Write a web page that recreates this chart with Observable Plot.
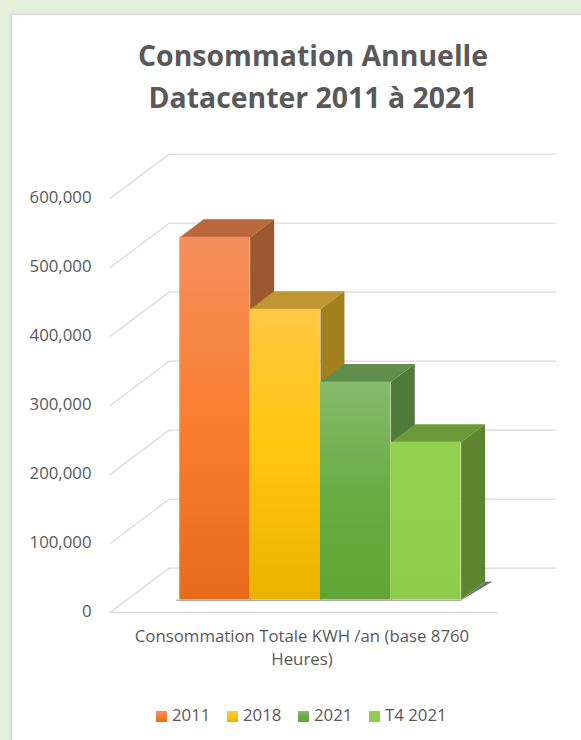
<!DOCTYPE html>
<html lang="fr">
<head>
<meta charset="utf-8">
<script src="https://cdn.jsdelivr.net/npm/d3@7"></script>
<script src="https://cdn.jsdelivr.net/npm/@observablehq/plot@0.6"></script>
<style>
  html, body { margin: 0; padding: 0; background: #E2EFDA; }
  #page { position: relative; width: 581px; height: 740px; overflow: hidden; background: #E2EFDA; font-family: "Open Sans", sans-serif; }
  #card { position: absolute; left: 10px; top: 13px; width: 600px; height: 760px; background: #fff; border: 2px solid #DEDEDE; box-sizing: border-box; }
  #title { position: absolute; left: 0; top: 34px; width: 626px; text-align: center; font-weight: 700; font-size: 28.4px; line-height: 42px; color: #595959; }
  #chart { position: absolute; left: 0; top: 140px; }
  #xlabel { position: absolute; left: 102px; top: 624px; width: 400px; text-align: center; font-size: 16.8px; line-height: 23px; color: #595959; }
  #legend { position: absolute; left: 0; top: 704px; width: 581px; color: #595959; font-size: 16.8px; line-height: 22px; }
  #legend span.item { position: absolute; top: 0; white-space: nowrap; }
  #legend i { position: absolute; top: 7px; left: -16px; width: 11px; height: 11px; }
</style>
</head>
<body>
<div id="page">
  <div id="card"></div>
  <div id="title">Consommation Annuelle<br>Datacenter 2011 à 2021</div>
  <div id="chart"></div>
  <div id="xlabel">Consommation Totale KWH /an (base 8760<br>Heures)</div>
  <div id="legend"></div>
</div>
<script>
const categories = ["2011", "2018", "2021", "T4 2021"];
const values = [525500, 421000, 315500, 228500];
const yTicks = [0, 100000, 200000, 300000, 400000, 500000, 600000];

const frontStops = [
  ["#F58F5C", "#F97F30", "#E76B18"],
  ["#FFC842", "#FFC60C", "#E9B300"],
  ["#86BB6B", "#6BAC44", "#62A436"],
  ["#92D14F", "#92D14F", "#8DCC4B"]
];
const topColors = ["#B9683B", "#BF9732", "#618F4B", "#6C9A38"];
const sideColors = ["#9C5930", "#A3801E", "#4F7A39", "#5F8430"];
const legendLefts = [172, 243, 314, 385];

// Oblique projection: depth z is measured in bar depths.
const depthX = 0.341;
const depthY = 26087;
const floorZ = [-0.706, 1.756];
const wallX = [-0.75, 4.75];
const proj = (x, v, z) => ({x: x + z * depthX, y: v + z * depthY});

const gridRows = yTicks.flatMap((v) => [
  {id: v, ...proj(wallX[0], v, floorZ[0])},
  {id: v, ...proj(wallX[0], v, floorZ[1])},
  {id: v, ...proj(wallX[1], v, floorZ[1])}
]);
const floorFront = [
  proj(wallX[0], 0, floorZ[0]),
  proj(wallX[1], 0, floorZ[0])
];

const faces = categories.flatMap((c, i) => {
  const v = values[i];
  return [
    {id: c + "-top", fill: topColors[i], pts: [proj(i, v, 0), proj(i + 1, v, 0), proj(i + 1, v, 1), proj(i, v, 1)]},
    {id: c + "-side", fill: sideColors[i], pts: [proj(i + 1, 0, 0), proj(i + 1, v, 0), proj(i + 1, v, 1), proj(i + 1, 0, 1)]}
  ];
}).flatMap((f) => f.pts.map((p) => ({...p, id: f.id, fill: f.fill})));

const shadow = [
  proj(4, 0, -0.02), proj(4, 0, 1), proj(4.1, 0, 1.02), proj(4.02, 0, 0.1), proj(4, 0, -0.02)
];
const baseShadow = [{x: -0.04, y: 0}, {x: 4, y: 0}];

function defs() {
  const svgNS = "http://www.w3.org/2000/svg";
  const d = document.createElementNS(svgNS, "defs");
  frontStops.forEach((stops, i) => {
    const g = document.createElementNS(svgNS, "linearGradient");
    g.setAttribute("id", "front" + i);
    g.setAttribute("x1", 0); g.setAttribute("x2", 0);
    g.setAttribute("y1", 0); g.setAttribute("y2", 1);
    stops.forEach((color, k) => {
      const s = document.createElementNS(svgNS, "stop");
      s.setAttribute("offset", k / 2);
      s.setAttribute("stop-color", color);
      g.appendChild(s);
    });
    d.appendChild(g);
  });
  return d;
}

const bars = categories.map((c, i) => ({c, i, v: values[i]}));

const chart = Plot.plot({
  width: 581,
  height: 500,
  marginLeft: 93,
  marginRight: 0,
  marginTop: 0,
  marginBottom: 0,
  style: {background: "transparent", fontFamily: '"Open Sans", sans-serif', overflow: "visible"},
  x: {domain: [0, 4], range: [179.3, 460.6], axis: null},
  y: {domain: [0, 600000], range: [459.3, 45.3]},
  marks: [
    defs,
    Plot.line(gridRows, {x: "x", y: "y", z: "id", stroke: "#DADADA", strokeWidth: 1.3}),
    Plot.line(floorFront, {x: "x", y: "y", stroke: "#DADADA", strokeWidth: 1.3}),
    Plot.line(shadow, {x: "x", y: "y", fill: "#444", fillOpacity: 0.75, stroke: "none"}),
    Plot.line(baseShadow, {x: "x", y: "y", stroke: "#777", strokeWidth: 1.4, strokeOpacity: 0.6, dy: 0.5}),
    Plot.line(faces, {x: "x", y: "y", z: "id", fill: "fill", stroke: "none"}),
    Plot.rect(bars, {
      x1: "i",
      x2: (d) => d.i + 1,
      y1: 0,
      y2: "v",
      fill: (d) => `url(#front${d.i})`
    }),
    Plot.axisY({
      ticks: yTicks,
      tickSize: 0,
      tickPadding: 2,
      dy: 11.5,
      label: null,
      fontSize: 16.8,
      color: "#595959",
      tickFormat: d3.format(",")
    })
  ]
});
document.getElementById("chart").appendChild(chart);

const legend = document.getElementById("legend");
categories.forEach((c, i) => {
  const s = document.createElement("span");
  s.className = "item";
  s.style.left = legendLefts[i] + "px";
  s.textContent = c;
  const sw = document.createElement("i");
  sw.style.background = `linear-gradient(${frontStops[i].join(",")})`;
  s.appendChild(sw);
  legend.appendChild(s);
});
</script>
</body>
</html>
